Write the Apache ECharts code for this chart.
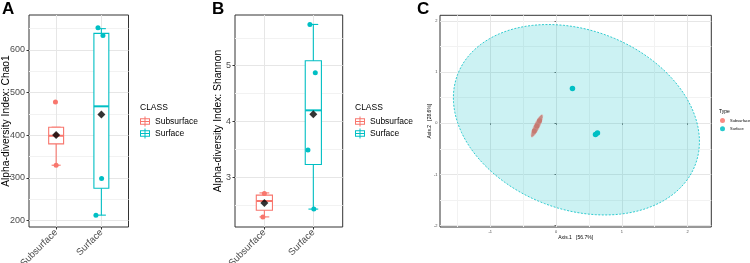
<!DOCTYPE html>
<html>
<head>
<meta charset="utf-8">
<title>Alpha diversity and PCoA</title>
<script src="https://cdn.jsdelivr.net/npm/echarts@6.0.0/dist/echarts.min.js"></script>
<style>
html, body { margin: 0; padding: 0; background: #fff; }
#alpha_pcoa { width: 750px; height: 263px; }
</style>
</head>
<body>
<div id="alpha_pcoa"></div>
<script>

// Data
// ------------------------------

var classes = ['Subsurface', 'Surface'];
var classColors = ['#F8766D', '#00BFC4'];

// Panel A - Chao1, box = [lower whisker, Q1, median, Q3, upper whisker]
var chao1Box = [[330, 380, 399, 419, 419], [213, 276, 468, 639, 650]];
var chao1Mean = [401, 449];
var chao1Points = [[478, 401, 330], [652, 634, 299, 213]];
var chao1Jitter = [[-0.015, 0, 0], [-0.075, 0.035, 0.005, -0.12]];
var chao1Ticks = [200, 300, 400, 500, 600];
var chao1Minor = [250, 350, 450, 550, 650];

// Panel B - Shannon
var shannonBox = [[2.29, 2.41, 2.575, 2.68, 2.72], [2.43, 3.23, 4.2, 5.09, 5.74]];
var shannonMean = [2.54, 4.13];
var shannonPoints = [[2.71, 2.29], [5.74, 4.875, 3.49, 2.43]];
var shannonJitter = [[0, -0.03], [-0.07, 0.04, -0.11, 0.01]];
var shannonTicks = [3, 4, 5];
var shannonMinor = [2.5, 3.5, 4.5, 5.5];

// Panel C - PCoA
var pcoaSubsurface = [[-0.33, -0.15], [-0.29, -0.05], [-0.25, 0.05]];
var pcoaSurface = [[0.25, 0.68], [0.60, -0.22], [0.63, -0.19]];
// ellipse = [centre x, centre y, spread x, spread y, correlation]
var ellipseSubsurface = [-0.29, -0.05, 0.09, 0.22, 0.85];
var ellipseSurface = [0.31, 0.07, 1.87, 1.86, -0.23];
var pcoaTicks = [-2, -1, 0, 1, 2];
var pcoaMinor = [-1.5, -0.5, 0.5, 1.5];


// Helpers
// ------------------------------

var fontFamily = "'Liberation Sans', Arial, sans-serif";
var boxWidth = 0.33;
var capWidth = 0.2;
var boxIcon = 'path://M0,2L12,2L12,10L0,10Z M1.2,3.2L1.2,8.8L10.8,8.8L10.8,3.2Z M0,5.4L12,5.4L12,6.6L0,6.6Z M5.4,0L6.6,0L6.6,12L5.4,12Z';

var jitterData = function(values, jitter, pos) {
    return values.map(function(v, i) { return [pos + jitter[i], v]; });
};

var boxRenderer = function(color) {
    return function(params, api) {
        var pos = api.value(0);
        var lo = api.coord([pos, api.value(1)]);
        var q1 = api.coord([pos, api.value(2)]);
        var md = api.coord([pos, api.value(3)]);
        var q3 = api.coord([pos, api.value(4)]);
        var hi = api.coord([pos, api.value(5)]);
        var half = api.coord([pos + boxWidth / 2, api.value(3)])[0] - md[0];
        var cap = api.coord([pos + capWidth / 2, api.value(3)])[0] - md[0];
        var line = {stroke: color, lineWidth: 1.1};
        return {
            type: 'group',
            children: [
                {type: 'line', shape: {x1: md[0], y1: lo[1], x2: md[0], y2: hi[1]}, style: line},
                {type: 'line', shape: {x1: md[0] - cap, y1: lo[1], x2: md[0] + cap, y2: lo[1]}, style: line},
                {type: 'line', shape: {x1: md[0] - cap, y1: hi[1], x2: md[0] + cap, y2: hi[1]}, style: line},
                {type: 'rect', shape: {x: md[0] - half, y: q3[1], width: half * 2, height: q1[1] - q3[1]},
                    style: {fill: '#fff', stroke: color, lineWidth: 1.1}},
                {type: 'line', shape: {x1: md[0] - half, y1: md[1], x2: md[0] + half, y2: md[1]},
                    style: {stroke: color, lineWidth: 2}}
            ]
        };
    };
};

var ellipseRenderer = function(color, fill) {
    return function(params, api) {
        var cx = api.value(0), cy = api.value(1);
        var sx = api.value(2), sy = api.value(3), rho = api.value(4);
        var pts = [];
        for (var i = 0; i < 120; i++) {
            var t = i / 120 * Math.PI * 2;
            pts.push(api.coord([
                cx + sx * Math.cos(t),
                cy + sy * (rho * Math.cos(t) + Math.sqrt(1 - rho * rho) * Math.sin(t))
            ]));
        }
        return {
            type: 'polygon',
            shape: {points: pts},
            style: {fill: fill, stroke: color, lineWidth: 0.8, lineDash: [2, 1.5]}
        };
    };
};

var gridBase = function(left, top, width, height) {
    return {
        left: left, top: top, width: width, height: height,
        show: true, borderColor: '#333333', borderWidth: 1, backgroundColor: 'transparent',
        containLabel: false, outerBoundsMode: 'none'
    };
};

var majorLine = {show: true, lineStyle: {color: '#e6e6e6', width: 1}};
var minorLine = {show: true, lineStyle: {color: '#f2f2f2', width: 1}};

var classAxis = function(gridIndex) {
    return {
        gridIndex: gridIndex, type: 'value', min: 0.4, max: 2.6,
        axisLine: {show: false},
        axisTick: {show: true, length: 2.5, customValues: [1, 2], lineStyle: {color: '#333333', width: 1}},
        axisLabel: {
            customValues: [1, 2], rotate: 45, margin: 4, fontSize: 9.5, color: '#4d4d4d',
            formatter: function(v) { return classes[Math.round(v) - 1]; }
        },
        splitLine: majorLine
    };
};

var valueAxis = function(gridIndex, min, max, ticks, name, nameGap) {
    return {
        gridIndex: gridIndex, type: 'value', min: min, max: max,
        name: name, nameLocation: 'middle', nameRotate: 90, nameGap: nameGap, nameMoveOverlap: false,
        nameTextStyle: {fontSize: 10.3, color: '#000'},
        axisLine: {show: false},
        axisTick: {show: true, length: 2.5, customValues: ticks, lineStyle: {color: '#333333', width: 1}},
        axisLabel: {customValues: ticks, margin: 4, fontSize: 9, color: '#4d4d4d'},
        splitLine: majorLine
    };
};

var minorAxis = function(gridIndex, min, max, ticks, position) {
    return {
        gridIndex: gridIndex, type: 'value', min: min, max: max, position: position,
        axisLine: {show: false},
        axisTick: {show: false, customValues: ticks},
        axisLabel: {show: false},
        splitLine: minorLine
    };
};

var legendBase = function(left) {
    return {
        left: left, top: 116.5, orient: 'vertical', padding: 0,
        itemWidth: 10, itemHeight: 10, itemGap: 2, selectedMode: false,
        textStyle: {fontSize: 8.5, color: '#000'},
        itemStyle: {borderWidth: 0},
        data: classes.map(function(c, i) {
            return {name: c, icon: boxIcon, itemStyle: {color: classColors[i], borderWidth: 0}};
        })
    };
};


// Chart
// ------------------------------

var chart_element = document.getElementById('alpha_pcoa');
var chart = echarts.init(chart_element, null, {renderer: 'canvas'});

var series = [];

// Panels A and B - boxes, points, means
[[chao1Box, chao1Points, chao1Jitter, chao1Mean, 0], [shannonBox, shannonPoints, shannonJitter, shannonMean, 1]].forEach(function(panel) {
    var idx = panel[4];
    classes.forEach(function(c, i) {
        series.push({
            name: c, type: 'custom', xAxisIndex: idx, yAxisIndex: idx, z: 2,
            renderItem: boxRenderer(classColors[i]),
            encode: {x: 0, y: [1, 2, 3, 4, 5]},
            data: [[i + 1].concat(panel[0][i])]
        });
        series.push({
            name: c, type: 'scatter', xAxisIndex: idx, yAxisIndex: idx, z: 3,
            symbolSize: 5, itemStyle: {color: classColors[i], opacity: 1},
            data: jitterData(panel[1][i], panel[2][i], i + 1)
        });
    });
    series.push({
        name: 'mean', type: 'scatter', xAxisIndex: idx, yAxisIndex: idx, z: 4,
        symbol: 'diamond', symbolSize: 8, itemStyle: {color: '#000'},
        data: panel[3].map(function(v, i) { return [i + 1, v]; })
    });
});

// Panel C - ellipses and points
series.push({
    name: 'Surface', type: 'custom', xAxisIndex: 2, yAxisIndex: 2, z: 2,
    renderItem: ellipseRenderer(classColors[1], 'rgba(0,191,196,0.2)'),
    encode: {x: 0, y: 1},
    data: [ellipseSurface]
});
series.push({
    name: 'Subsurface', type: 'custom', xAxisIndex: 2, yAxisIndex: 2, z: 3,
    renderItem: ellipseRenderer('#e9c2be', 'rgba(196,122,114,0.85)'),
    encode: {x: 0, y: 1},
    data: [ellipseSubsurface]
});
series.push({
    name: 'Subsurface', type: 'scatter', xAxisIndex: 2, yAxisIndex: 2, z: 4,
    symbolSize: 5, itemStyle: {color: '#c67870', opacity: 0.9},
    data: pcoaSubsurface
});
series.push({
    name: 'Surface', type: 'scatter', xAxisIndex: 2, yAxisIndex: 2, z: 4,
    symbolSize: 5.5, itemStyle: {color: classColors[1], opacity: 1},
    data: pcoaSurface
});

chart.setOption({
    animation: false,
    textStyle: {fontFamily: fontFamily},

    title: [
        {text: 'A', left: 2, top: 1, padding: 0, textStyle: {fontSize: 17, fontWeight: 'bold', color: '#000'}},
        {text: 'B', left: 212, top: 1, padding: 0, textStyle: {fontSize: 17, fontWeight: 'bold', color: '#000'}},
        {text: 'C', left: 417, top: 1, padding: 0, textStyle: {fontSize: 17, fontWeight: 'bold', color: '#000'}},
        {text: 'CLASS', left: 140, top: 103.5, padding: 0, textStyle: {fontSize: 8.5, fontWeight: 'normal', color: '#000'}},
        {text: 'CLASS', left: 355, top: 103.5, padding: 0, textStyle: {fontSize: 8.5, fontWeight: 'normal', color: '#000'}},
        {text: 'Type', left: 719, top: 109.5, padding: 0, textStyle: {fontSize: 5, fontWeight: 'normal', color: '#000'}}
    ],

    legend: [
        legendBase(140),
        legendBase(355),
        {
            left: 720, top: 118, orient: 'vertical', padding: 0,
            itemWidth: 5, itemHeight: 5, itemGap: 3.3, selectedMode: false,
            textStyle: {fontSize: 4, color: '#000'},
            data: classes.map(function(c, i) {
                return {name: c, icon: 'circle', itemStyle: {color: classColors[i], borderWidth: 0, opacity: 0.85}};
            })
        }
    ],

    grid: [
        gridBase(29, 15, 99.5, 212),
        gridBase(235, 15, 107.7, 212),
        gridBase(440, 15.3, 271.3, 211.7)
    ],

    xAxis: [
        classAxis(0),
        classAxis(1),
        {
            gridIndex: 2, type: 'value', min: -1.763, max: 2.36,
            name: 'Axis.1   [56.7%]', nameLocation: 'middle', nameGap: 8, nameMoveOverlap: false,
            nameTextStyle: {fontSize: 5, color: '#000'},
            axisLine: {show: false},
            axisTick: {show: true, length: 1.5, customValues: pcoaTicks, lineStyle: {color: '#333333', width: 0.7}},
            axisLabel: {customValues: pcoaTicks, margin: 2.5, fontSize: 4, color: '#4d4d4d'},
            splitLine: majorLine
        },
        minorAxis(2, -1.763, 2.36, pcoaMinor, 'top')
    ],

    yAxis: [
        valueAxis(0, 185.2, 682, chao1Ticks, 'Alpha-diversity Index: Chao1', 18),
        valueAxis(1, 2.109, 5.909, shannonTicks, 'Alpha-diversity Index: Shannon', 12),
        {
            gridIndex: 2, type: 'value', min: -2.025, max: 2.11,
            name: 'Axis.2   [28.6%]', nameLocation: 'middle', nameRotate: 90, nameGap: 7.5, nameMoveOverlap: false,
            nameTextStyle: {fontSize: 5, color: '#000'},
            axisLine: {show: false},
            axisTick: {show: true, length: 1.5, customValues: pcoaTicks, lineStyle: {color: '#333333', width: 0.7}},
            axisLabel: {customValues: pcoaTicks, margin: 2.5, fontSize: 4, color: '#4d4d4d'},
            splitLine: majorLine
        },
        minorAxis(0, 185.2, 682, chao1Minor, 'right'),
        minorAxis(1, 2.109, 5.909, shannonMinor, 'right'),
        minorAxis(2, -2.025, 2.11, pcoaMinor, 'right')
    ],

    series: series
});

window.addEventListener('resize', function() {
    chart.resize();
});
</script>
</body>
</html>
